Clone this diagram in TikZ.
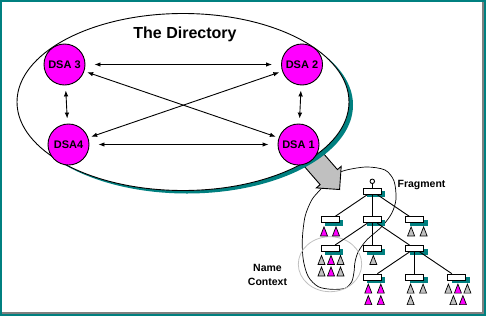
\documentclass[tikz,border=0pt]{standalone}
\usepackage{fontspec}
\setmainfont{Liberation Sans}
\usetikzlibrary{
  arrows.meta,
  positioning,
  shapes.geometric,
  shapes.arrows,
  shadows
}
\definecolor{dirteal}{RGB}{0,128,128}
\definecolor{dirmagenta}{RGB}{255,0,255}
\definecolor{dirgray}{RGB}{192,192,192}
\definecolor{dirdark}{RGB}{128,128,128}

\begin{document}
\begin{tikzpicture}[
            x=1pt, y=-1pt,
            line width=0.9pt,
            node distance=28.6pt,
            dsa/.style={circle, minimum size=41pt, inner sep=0pt, draw=black, fill=dirmagenta, font=\fontsize{11}{12}\selectfont\bfseries},
            fragbox/.style={rectangle, minimum width=18pt, minimum height=6pt, inner sep=0pt, draw=black, fill=white, drop shadow={shadow xshift=4pt, shadow yshift=-3pt, fill=dirteal, opacity=1}},
            dirlink/.style={{Latex[length=6pt,width=4.5pt]}-{Latex[length=6pt,width=4.5pt]}, shorten <=#1, shorten >=#1},
            tagtext/.style={font=\fontsize{10.5}{14}\selectfont\bfseries, align=center},
            pics/tri/.style={code={\filldraw[fill=#1, line width=0.7pt] (-3.5,4.5) -- (3.5,4.5) -- (0,-4.5) -- cycle;}}
        ]
        \useasboundingbox (0,0) rectangle (486,316);

        % Frame
        \draw [dirdark, line width=2pt] (483,2) -- (483,313) -- (2,313);
        \draw [dirteal, line width=2pt] (1,1) rectangle (485,315);

        % Fragment and name context outlines
        \draw [line width=0.7pt] plot [smooth cycle] coordinates {
          (343,171) (366,167) (385,170) (394,181) (396,199) (391.7,213.3) (381.7,226.7)
          (366.7,240) (358.3,251.7) (355,262) (354,272) (351.7,281.7) (345,288.3)
          (331.7,289.3) (318.3,286.7) (308.3,276.7) (303.3,260) (302.3,240)
          (305,216.7) (311.7,200) (320,190) (330,179)};
        \draw [dirgray, line width=0.8pt] (330,264.2) ellipse [x radius=31.7, y radius=27.5];

        % Directory
        \node (zoom) [single arrow, draw=black, fill=dirgray, minimum height=46pt, inner sep=0pt, inner ysep=11pt, single arrow head extend=5pt, rotate=-49, anchor=tip] at (340,190) {};
        \node (dir) [ellipse, minimum width=332pt, minimum height=177pt, draw=black, fill=white, drop shadow={shadow xshift=4pt, shadow yshift=-3pt, fill=dirteal, opacity=1}] at (183,102) {};
        \node (title) [font=\fontsize{16}{18}\selectfont\bfseries] at (185,34.5) {The Directory};

        \node (dsa3) [dsa] at (64.5,64.5) {DSA 3};
        \node (dsa2) [dsa] at (302,64.5) {DSA 2};
        \node (dsa4) [dsa] at (68.5,144.5) {DSA4};
        \node (dsa1) [dsa] at (298.5,144.5) {DSA 1};

        \draw [dirlink=9pt] (dsa3) -- (dsa2);
        \draw [dirlink=9pt] (dsa4) -- (dsa1);
        \draw [dirlink=5pt] (dsa3) -- (dsa4);
        \draw [dirlink=5pt] (dsa2) -- (dsa1);
        \draw [dirlink=3pt] (dsa3) -- (dsa1);
        \draw [dirlink=3pt] (dsa2) -- (dsa4);

        % Fragment tree
        \node (f0) [fragbox] at (372.3,191.3) {};
        \node (knob) [circle, draw=black, fill=white, minimum size=4.5pt, inner sep=0pt, above of=f0, node distance=10pt] {};
        \node (f1a) [fragbox, below of=f0, xshift=-42.3pt] {};
        \node (f1b) [fragbox, below of=f0] {};
        \node (f1c) [fragbox, below of=f0, xshift=42.3pt] {};
        \node (f2a) [fragbox, below of=f1b, xshift=-42.3pt] {};
        \node (f2b) [fragbox, below of=f1b] {};
        \node (f2c) [fragbox, below of=f1b, xshift=42.3pt] {};
        \node (f3a) [fragbox, below of=f2c, xshift=-42.3pt] {};
        \node (f3b) [fragbox, below of=f2c] {};
        \node (f3c) [fragbox, below of=f2c, xshift=42.3pt] {};

        \draw (knob) -- (f0);
        \draw (f0) -- (f1a);
        \draw (f0) -- (f1b);
        \draw (f0) -- (f1c);
        \draw (f1b) -- (f2a);
        \draw (f1b) -- (f2b);
        \draw (f1b) -- (f2c);
        \draw (f2c) -- (f3a);
        \draw (f2c) -- (f3b);
        \draw (f2c) -- (f3c);

        % Entries
        \pic at ([shift={(-6,11.5)}]f1a) {tri=dirmagenta};
        \pic at ([shift={(6,11.5)}]f1a) {tri=dirmagenta};
        \pic at ([shift={(-3.5,11.5)}]f1c) {tri=dirgray};
        \pic at ([shift={(9,11.5)}]f1c) {tri=dirgray};

        \pic at ([shift={(-8.5,11.5)}]f2a) {tri=dirgray};
        \pic at ([shift={(1,11.5)}]f2a) {tri=dirmagenta};
        \pic at ([shift={(10.5,11.5)}]f2a) {tri=dirgray};
        \pic at ([shift={(-8.5,23)}]f2a) {tri=dirgray};
        \pic at ([shift={(1,23)}]f2a) {tri=dirmagenta};
        \pic at ([shift={(10.5,23)}]f2a) {tri=dirgray};
        \pic at ([shift={(1,11.5)}]f2b) {tri=dirgray};

        \pic at ([shift={(-4,11.5)}]f3a) {tri=dirmagenta};
        \pic at ([shift={(8.5,11.5)}]f3a) {tri=dirmagenta};
        \pic at ([shift={(-4,23)}]f3a) {tri=dirmagenta};
        \pic at ([shift={(8.5,23)}]f3a) {tri=dirmagenta};
        \pic at ([shift={(-4,11.5)}]f3b) {tri=dirgray};
        \pic at ([shift={(8.5,11.5)}]f3b) {tri=dirgray};
        \pic at ([shift={(-4,23)}]f3b) {tri=dirgray};
        \pic at ([shift={(-8.5,11.5)}]f3c) {tri=dirgray};
        \pic at ([shift={(1,11.5)}]f3c) {tri=dirmagenta};
        \pic at ([shift={(10.5,11.5)}]f3c) {tri=dirgray};
        \pic at ([shift={(-3.5,23)}]f3c) {tri=dirgray};
        \pic at ([shift={(6,23)}]f3c) {tri=dirmagenta};

        % Labels
        \node (fraglabel) [tagtext] at (421.5,185) {Fragment};
        \node (ctxlabel) [tagtext] at (267.5,274.5) {Name\\Context};

    \end{tikzpicture}
\end{document}
